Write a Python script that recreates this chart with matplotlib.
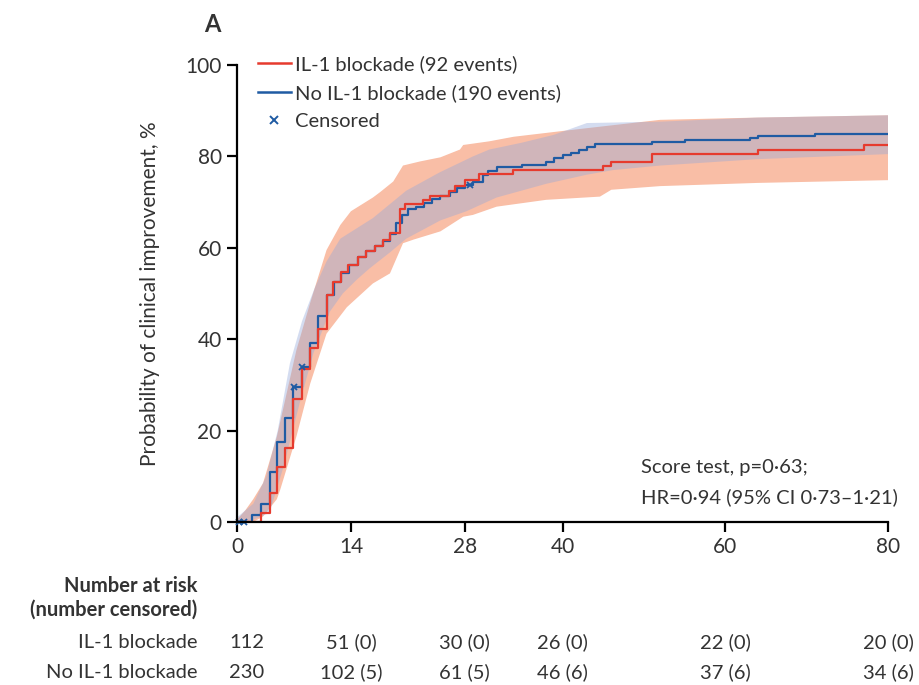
import numpy as np
import matplotlib
matplotlib.use('Agg')
import matplotlib.pyplot as plt
from matplotlib.lines import Line2D
from matplotlib.transforms import blended_transform_factory

plt.rcParams['font.family'] = ['Lato', 'DejaVu Sans']

# cumulative incidence of clinical improvement (days, %)
il1_t = [0, 2.9, 4.0, 4.9, 5.9, 6.9, 7.95, 9.0, 10.0, 11.0, 11.8, 12.8, 13.6, 14.9, 15.9, 16.9,
         17.9, 18.8, 20.0, 20.6, 22.9, 23.7, 26.0, 26.8, 28.0, 29.8, 33.9, 45.0, 46.0, 51.0, 64.0, 77.0, 80]
il1_y = [0, 1.9, 6.4, 12.0, 16.3, 27.0, 33.4, 38.0, 42.2, 49.7, 52.6, 54.8, 56.2, 58.0, 59.3, 60.3,
         61.8, 63.2, 68.4, 69.6, 70.4, 71.3, 72.5, 73.6, 74.8, 76.2, 77.0, 78.0, 78.8, 80.6, 81.5, 82.5, 82.5]

no_t = [0, 1.8, 2.9, 4.0, 4.9, 5.9, 6.9, 7.95, 9.0, 10.0, 11.0, 11.9, 12.8, 13.8, 14.9, 15.9, 16.9,
        17.9, 18.8, 19.6, 20.3, 21.0, 22.0, 23.0, 24.0, 25.0, 26.2, 27.0, 28.0, 29.0, 30.2, 30.9, 32.0,
        35.0, 38.0, 39.0, 40.0, 41.0, 42.0, 43.0, 44.0, 51.0, 55.0, 63.0, 64.0, 71.0, 80]
no_y = [0, 1.5, 4.0, 11.0, 17.4, 22.7, 29.6, 34.0, 39.1, 45.0, 49.7, 52.6, 54.5, 56.2, 58.0, 59.2, 60.3,
        61.5, 63.0, 65.4, 67.2, 68.4, 69.0, 69.8, 70.6, 71.4, 72.3, 73.0, 73.8, 74.4, 76.0, 76.7, 77.7,
        78.2, 78.8, 79.6, 80.2, 80.7, 81.4, 82.0, 82.7, 83.2, 83.6, 84.0, 84.5, 84.9, 84.9]

# censored (No IL-1 blockade)
cens_t = [0.3, 0.9, 7.0, 8.0, 28.6]
cens_y = [0.0, 0.0, 29.6, 34.0, 73.8]

# 95% CI bands
il1_hi_t = [0, 1, 2, 3.2, 4.9, 7.3, 9, 11, 12.7, 14, 16.7, 17.6, 19.2, 20.4, 22.5, 25, 27.4, 27.8,
            31, 34, 39.7, 44.6, 52, 64, 80]
il1_hi = [0.5, 2.5, 5, 8.5, 18.7, 37.6, 48, 59.5, 65, 68, 71, 72.2, 74.5, 78, 78.9, 79.8, 81.5, 82.5,
          83.3, 84.3, 85.5, 86.5, 88, 88.5, 89]
il1_lo_t = [0, 2, 3.2, 4.9, 5.3, 7.3, 9, 11, 13.5, 16.7, 18.8, 20.4, 21.7, 25, 27.8, 29, 31.9, 38,
            44.6, 46, 52, 64, 80]
il1_lo = [0, 0, 1.2, 5, 7, 18.7, 30.3, 41.2, 47, 52.2, 54.4, 61, 61.8, 63.6, 66.8, 67.2, 69, 70.5,
          71.2, 72.7, 73.5, 74.2, 74.8]

no_hi_t = [0, 2, 3.6, 5, 6.5, 8, 9.5, 11, 12.7, 16.7, 20.8, 24.9, 29, 31, 35, 38.9, 43, 52, 64, 80]
no_hi = [1, 4, 10, 20, 34.7, 44, 51, 57, 62, 66.5, 72.5, 76.5, 80, 81.5, 83, 84.7, 87.3, 87.6, 88.5, 89]
no_lo_t = [0, 2, 4, 5.7, 7.7, 9.4, 11.4, 13, 14.7, 16.3, 18.8, 20.8, 25, 28.2, 31.9, 38, 43, 46.2, 52, 64, 80]
no_lo = [0, 0.5, 2, 12, 26, 37, 46, 50, 53, 55.5, 59, 62, 66, 68, 71, 74, 76, 77, 78, 79.4, 80.5]

# number at risk table
risk_days = [0, 14, 28, 40, 60, 80]
risk_il1 = ['112', '51 (0)', '30 (0)', '26 (0)', '22 (0)', '20 (0)']
risk_no = ['230', '102 (5)', '61 (5)', '46 (6)', '37 (6)', '34 (6)']

red = '#e63b2e'
blue = '#1f5ba3'
txt = '#333333'
fs = 14.5

W, H = 919, 685
fig = plt.figure(figsize=(W / 100, H / 100), dpi=100)
ax = fig.add_axes([237 / W, 1 - 522 / H, 651 / W, 457 / H])

# bands as polygons from their two edges
ax.fill(np.r_[il1_hi_t, il1_lo_t[::-1]], np.r_[il1_hi, il1_lo[::-1]], color='#f7a888', alpha=0.75, lw=0)
ax.fill(np.r_[no_hi_t, no_lo_t[::-1]], np.r_[no_hi, no_lo[::-1]], color='#94a8da', alpha=0.4, lw=0)

ax.plot(no_t, no_y, drawstyle='steps-post', color=blue, lw=1.6)
ax.plot(il1_t, il1_y, drawstyle='steps-post', color=red, lw=1.6)
ax.plot(cens_t, cens_y, 'x', color=blue, ms=4, mew=1.3, clip_on=False)

ax.set_xlim(0, 80)
ax.set_ylim(0, 100)
ax.set_xticks(risk_days)
ax.set_yticks([0, 20, 40, 60, 80, 100])
for s in ['top', 'right']:
    ax.spines[s].set_visible(False)
for s in ['left', 'bottom']:
    ax.spines[s].set_linewidth(1.6)
ax.tick_params(direction='out', length=7, width=1.6, labelsize=15, labelcolor=txt, pad=4)
ax.set_ylabel('Probability of clinical improvement, %', fontsize=15, color=txt)
ax.yaxis.set_label_coords(-0.118, 0.5)

handles = [Line2D([], [], color=red, lw=1.8),
           Line2D([], [], color=blue, lw=1.8),
           Line2D([], [], color=blue, marker='x', ls='none', ms=6, mew=1.4)]
labels = ['IL-1 blockade (92 events)', 'No IL-1 blockade (190 events)', 'Censored']
ax.legend(handles, labels, loc='upper left', bbox_to_anchor=(0.032, 1.022), frameon=False,
          fontsize=fs, handlelength=1.64, handletextpad=0.2, labelspacing=0.55,
          borderpad=0, borderaxespad=0, labelcolor=txt)

fig.text(212 / W, 1 - 25 / H, 'A', fontsize=17, fontweight='bold', color=txt, ha='center', va='center')

ax.text(641 / W, 1 - 467 / H, 'Score test, p=0·63;', transform=fig.transFigure,
        fontsize=fs, color=txt, ha='left', va='center')
ax.text(641 / W, 1 - 497 / H, 'HR=0·94 (95% CI 0·73–1·21)', transform=fig.transFigure,
        fontsize=fs, color=txt, ha='left', va='center')

# number at risk
fig.text(197 / W, 1 - 586 / H, 'Number at risk', fontsize=fs, fontweight='bold', color=txt,
         ha='right', va='center')
fig.text(197 / W, 1 - 610 / H, '(number censored)', fontsize=fs, fontweight='bold', color=txt,
         ha='right', va='center')
fig.text(197 / W, 1 - 642 / H, 'IL-1 blockade', fontsize=fs, color=txt, ha='right', va='center')
fig.text(197 / W, 1 - 672 / H, 'No IL-1 blockade', fontsize=fs, color=txt, ha='right', va='center')
tr = blended_transform_factory(ax.transData, fig.transFigure)
for i, d in enumerate(risk_days):
    off = 1.2 if i == 0 else 0
    ax.text(d + off, 1 - 642 / H, risk_il1[i], transform=tr, fontsize=fs, color=txt,
            ha='center', va='center', clip_on=False)
    ax.text(d + off, 1 - 672 / H, risk_no[i], transform=tr, fontsize=fs, color=txt,
            ha='center', va='center', clip_on=False)

fig.savefig('out.png', dpi=100)
